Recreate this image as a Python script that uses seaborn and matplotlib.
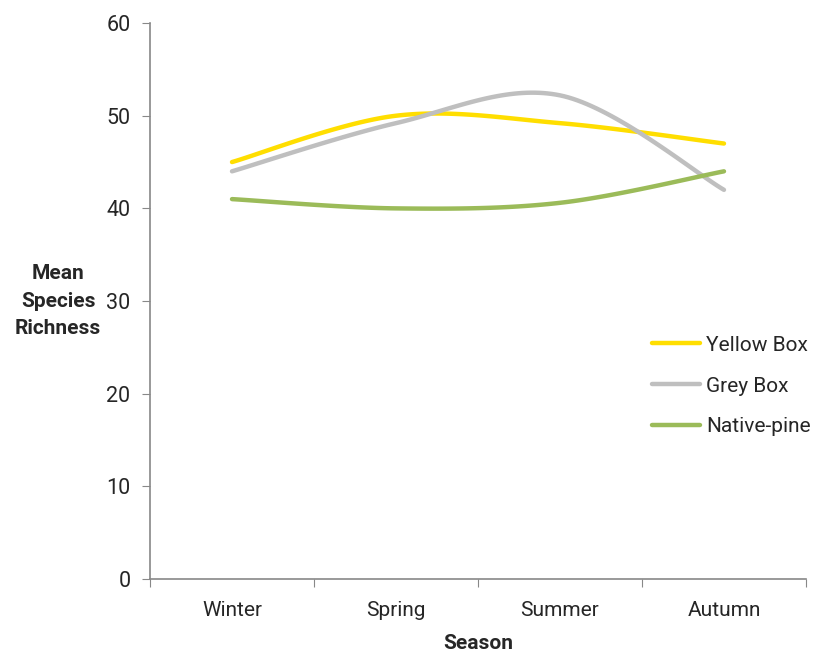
import numpy as np
import pandas as pd
import matplotlib.pyplot as plt
import seaborn as sns

seasons = ["Winter", "Spring", "Summer", "Autumn"]
yellow_box = [45, 50, 49.2, 47]
grey_box = [44, 49.2, 52.2, 42]
native_pine = [41, 40, 40.6, 44]
series_names = ["Yellow Box", "Grey Box", "Native-pine"]
colors = ["#FFDE00", "#BFBFBF", "#9BBB59"]


def smooth(ys, n=40):
    # Excel-style smoothed line: cubic Bezier with control points from neighbours
    x = np.arange(len(ys), dtype=float)
    y = np.asarray(ys, dtype=float)
    pts = np.column_stack([x, y])
    out = []
    for i in range(len(pts) - 1):
        p0 = pts[max(i - 1, 0)]
        p1 = pts[i]
        p2 = pts[i + 1]
        p3 = pts[min(i + 2, len(pts) - 1)]
        c1 = p1 + (p2 - p0) / 6
        c2 = p2 - (p3 - p1) / 6
        t = np.linspace(0, 1, n)[:, None]
        seg = ((1 - t) ** 3) * p1 + 3 * ((1 - t) ** 2) * t * c1 + 3 * (1 - t) * t ** 2 * c2 + t ** 3 * p2
        out.append(seg if i == 0 else seg[1:])
    return np.vstack(out)


frames = []
for name, vals in zip(series_names, [yellow_box, grey_box, native_pine]):
    s = smooth(vals)
    frames.append(pd.DataFrame({"x": s[:, 0], "y": s[:, 1], "series": name}))
df = pd.concat(frames, ignore_index=True)

sns.set_style("white")
plt.rcParams['font.family'] = ['Roboto', 'DejaVu Sans']

fig = plt.figure(figsize=(8.22, 6.52), dpi=100)
ax = fig.add_axes([0.1825, 0.112, 0.798, 0.8526])

sns.lineplot(data=df, x="x", y="y", hue="series", palette=dict(zip(series_names, colors)),
             linewidth=3.2, sort=False, estimator=None, units="series", ax=ax,
             solid_capstyle="round")

ax.set_xlim(-0.5, 3.5)
ax.set_ylim(0, 60)
ax.set_yticks(range(0, 61, 10))
ax.tick_params(axis="y", labelsize=15.5, length=6, color="#888888", direction="out", left=True, pad=8)

# category boundaries as major ticks, labels centred via minor ticks
ax.set_xticks(np.arange(-0.5, 4.0, 1.0))
ax.set_xticklabels([])
ax.set_xticks(range(len(seasons)), minor=True)
ax.set_xticklabels(seasons, minor=True, fontsize=15)
ax.tick_params(axis="x", which="major", length=6, color="#888888", direction="out", bottom=True)
ax.tick_params(axis="x", which="minor", length=0, pad=16)

for side in ["top", "right"]:
    ax.spines[side].set_visible(False)
for side in ["left", "bottom"]:
    ax.spines[side].set_color("#888888")
    ax.spines[side].set_linewidth(1.2)

ax.set_xlabel("Season", fontsize=15, fontweight="bold", labelpad=10)
ax.set_ylabel("Mean\nSpecies\nRichness", fontsize=15, fontweight="bold", rotation=0,
              ha="center", va="center", labelpad=0, linespacing=1.55)
ax.yaxis.set_label_coords(-0.14, 0.5)

leg = ax.legend(loc="center left", bbox_to_anchor=(0.765, 0.347), frameon=False, fontsize=15,
                handlelength=2.3, handletextpad=0.3, labelspacing=1.05,
                borderaxespad=0, borderpad=0)
for line in leg.get_lines():
    line.set_linewidth(3.2)

fig.savefig("out.png", dpi=100)
